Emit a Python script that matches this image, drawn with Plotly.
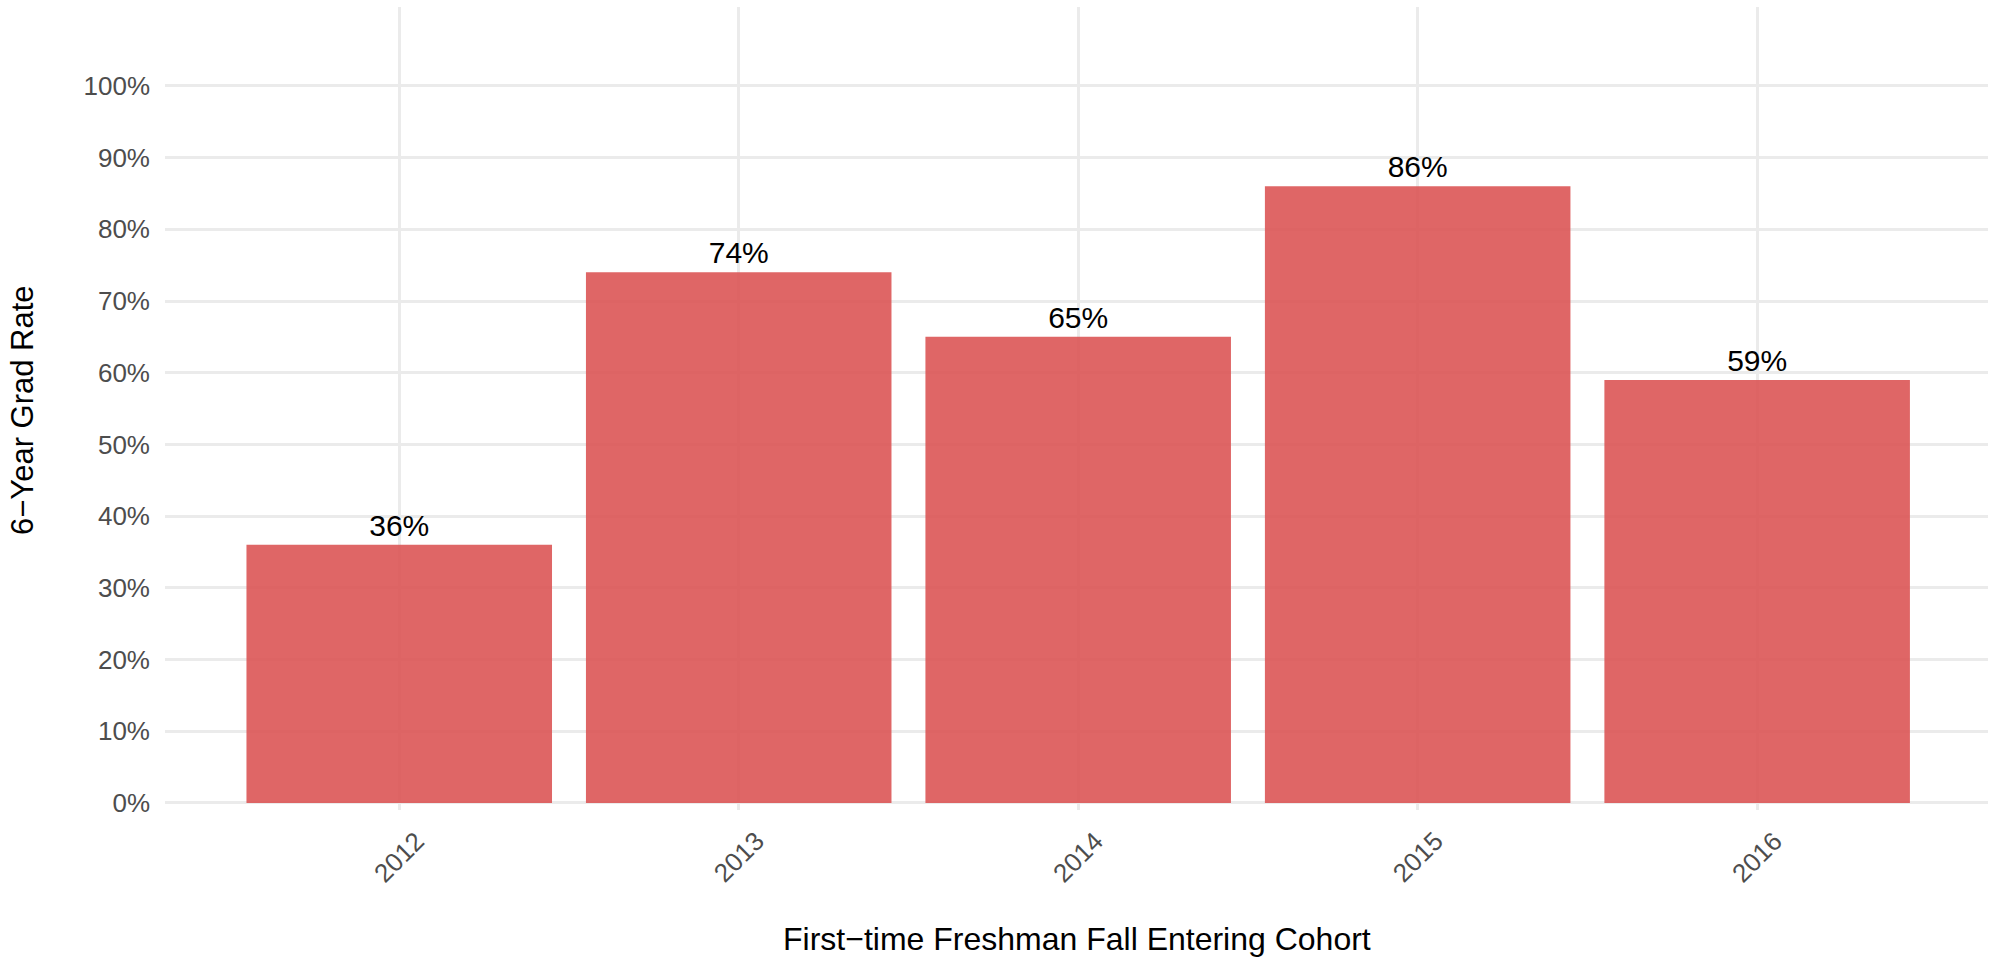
import plotly.graph_objects as go

cohorts = ["2012", "2013", "2014", "2015", "2016"]
grad_rates = [36, 74, 65, 86, 59]
y_ticks = [0, 10, 20, 30, 40, 50, 60, 70, 80, 90, 100]
y_tick_labels = [f"{v}%" for v in y_ticks]
x_title = "First\u2212time Freshman Fall Entering Cohort"
y_title = "6\u2212Year Grad Rate"

FONT = "Liberation Sans, Arial, Helvetica, sans-serif"
W, H = 1993, 958
PANEL_L, PANEL_R, PANEL_T, PANEL_B = 165, 1988, 7, 810
ML, MR, MT, MB = PANEL_L, W - PANEL_R, PANEL_T, H - PANEL_B
PW = W - ML - MR
PH = H - MT - MB

fig = go.Figure()
fig.add_trace(go.Bar(
    x=cohorts,
    y=grad_rates,
    width=0.9,
    marker=dict(color="rgba(220,85,85,0.9)", line=dict(width=0)),
    text=[f"{v}%" for v in grad_rates],
    textposition="outside",
    textfont=dict(family=FONT, size=30, color="black"),
    cliponaxis=False,
    hoverinfo="skip",
))

annotations = []
for i, c in enumerate(cohorts):
    annotations.append(dict(
        x=i, xref="x", y=(PANEL_B - 857) / PH, yref="paper",
        text=c, showarrow=False, textangle=-45,
        xanchor="center", yanchor="middle",
        font=dict(family=FONT, size=26, color="#4D4D4D"),
    ))
annotations.append(dict(
    x=0.5, xref="paper", y=(PANEL_B - 939) / PH, yref="paper",
    text=x_title, showarrow=False, xanchor="center", yanchor="middle",
    font=dict(family=FONT, size=32, color="black"),
))
annotations.append(dict(
    x=(22 - PANEL_L) / PW, xref="paper", y=(PANEL_B - 410) / PH, yref="paper",
    text=y_title, showarrow=False, textangle=-90,
    xanchor="center", yanchor="middle",
    font=dict(family=FONT, size=31, color="black"),
))

fig.update_layout(
    width=W, height=H, autosize=False,
    margin=dict(l=ML, r=MR, t=MT, b=MB, pad=0),
    paper_bgcolor="white", plot_bgcolor="white",
    showlegend=False,
    font=dict(family=FONT),
    annotations=annotations,
    xaxis=dict(
        type="category",
        range=[-0.69, 4.68],
        showgrid=True, gridcolor="#EBEBEB", gridwidth=2.5,
        showticklabels=False, ticks="", zeroline=False, showline=False,
    ),
    yaxis=dict(
        range=[-0.98, 111.0],
        tickmode="array", tickvals=y_ticks, ticktext=y_tick_labels,
        showgrid=True, gridcolor="#EBEBEB", gridwidth=2.5,
        zeroline=False, showline=False, ticks="",
        tickfont=dict(family=FONT, size=26, color="#4D4D4D"),
        ticklabelstandoff=14,
    ),
)

fig.write_html(
    "out.html",
    config={"displayModeBar": False},
    post_script="document.body.style.margin='0px';document.body.style.overflow='hidden';",
)
